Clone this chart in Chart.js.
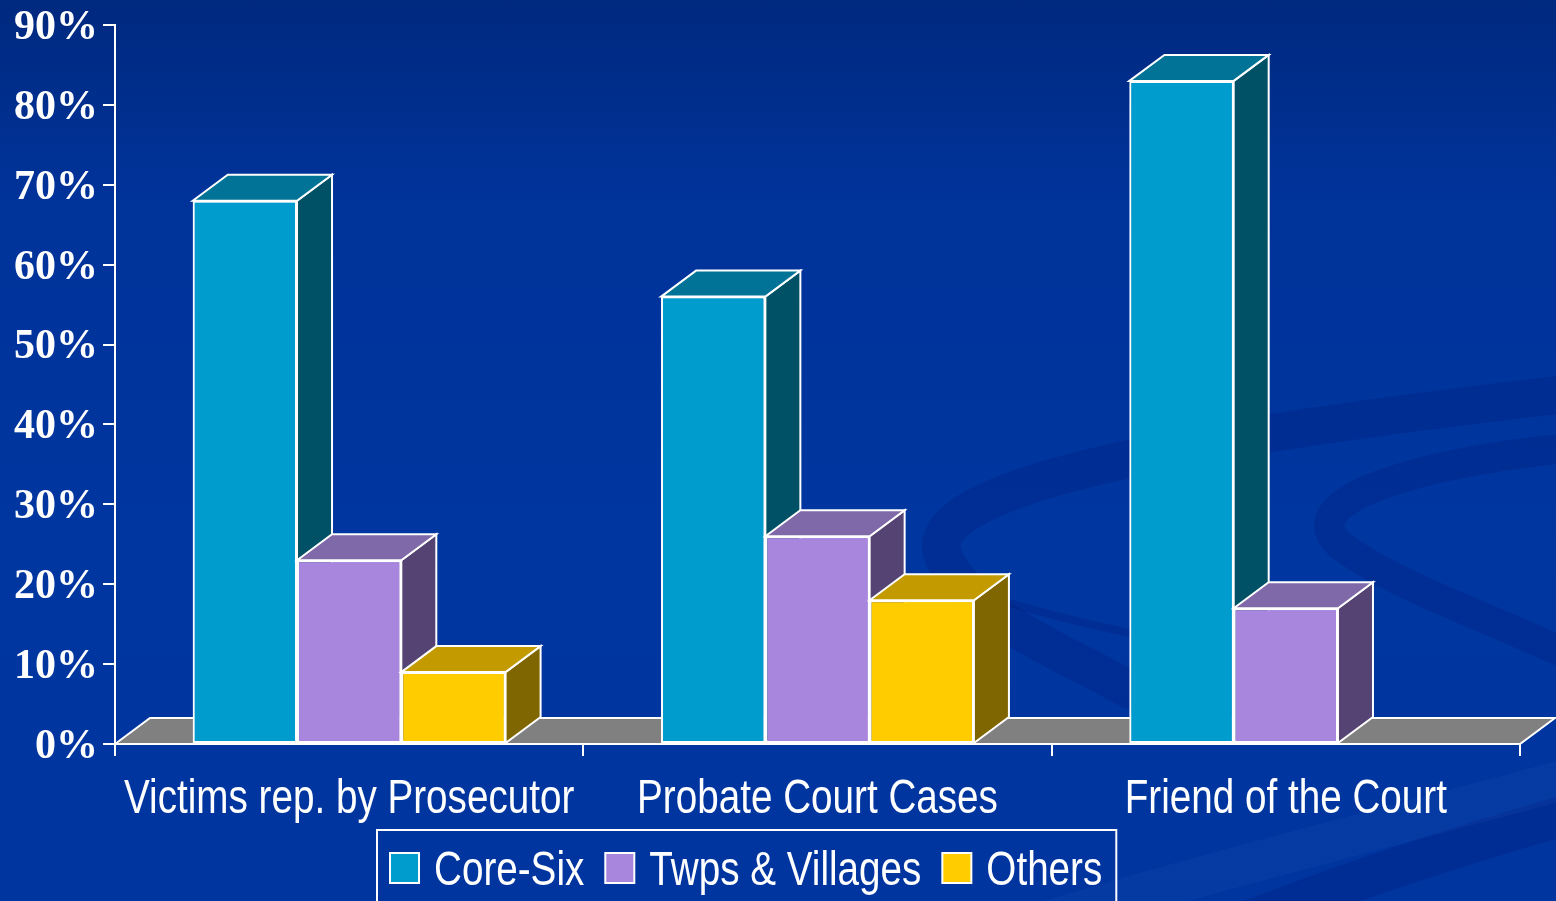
<!DOCTYPE html>
<html><head><meta charset="utf-8">
<script src="https://cdn.jsdelivr.net/npm/chart.js@4"></script>
<style>
html,body{margin:0;padding:0;width:1556px;height:901px;overflow:hidden;}
body{background:linear-gradient(180deg,#00297f 0%,#00339a 22%,#0036a0 60%,#0035a0 100%);}
canvas{display:block;}
</style></head><body>
<canvas id="c" width="1556" height="901"></canvas>
<script>
const categories = ['Victims rep. by Prosecutor', 'Probate Court Cases', 'Friend of the Court'];
const seriesNames = ['Core-Six', 'Twps & Villages', 'Others'];
const coreSix = [68, 56, 83];
const twpsVillages = [23, 26, 17];
const others = [9, 18, null];
const yTickMin = 0, yTickMax = 90, yTickStep = 10;

const frontColors = ['#009CCE', '#A886DE', '#FFCC00'];
const topColors = ['#007396', '#7F69A8', '#C39B00'];
const sideColors = ['#005166', '#554473', '#806600'];
const SANS = "'Liberation Sans',Arial,sans-serif";
const NARROW_SCALE = 0.805;
const DX = 35, DY = -26;

function poly(ctx, pts, fill) {
  ctx.beginPath();
  ctx.moveTo(pts[0][0], pts[0][1]);
  for (let k = 1; k < pts.length; k++) ctx.lineTo(pts[k][0], pts[k][1]);
  ctx.closePath();
  ctx.fillStyle = fill; ctx.fill();
  ctx.strokeStyle = '#fff'; ctx.lineWidth = 2; ctx.lineJoin = 'miter'; ctx.stroke();
}
function narrowText(ctx, text, x, y, align) {
  ctx.save();
  ctx.translate(x, y);
  ctx.scale(NARROW_SCALE, 1);
  ctx.textAlign = align;
  ctx.fillText(text, 0, 0);
  ctx.restore();
}
function narrowWidth(ctx, text) { return ctx.measureText(text).width * NARROW_SCALE; }

const bgSwirl = {
  id: 'bgSwirl',
  beforeDraw(chart) {
    const ctx = chart.ctx;
    ctx.save();
    ctx.lineCap = 'round';
    ctx.strokeStyle = 'rgba(0,25,110,0.25)';
    ctx.lineWidth = 38;
    ctx.beginPath();
    ctx.moveTo(1600, 390);
    ctx.bezierCurveTo(1250, 430, 900, 480, 945, 560);
    ctx.bezierCurveTo(975, 620, 1060, 650, 1130, 690);
    ctx.stroke();
    ctx.lineWidth = 30;
    ctx.beginPath();
    ctx.moveTo(1600, 445);
    ctx.bezierCurveTo(1420, 460, 1290, 500, 1340, 545);
    ctx.bezierCurveTo(1400, 590, 1500, 620, 1600, 670);
    ctx.stroke();
    ctx.lineWidth = 8;
    ctx.beginPath();
    ctx.moveTo(1000, 600);
    ctx.bezierCurveTo(1080, 625, 1200, 650, 1300, 660);
    ctx.stroke();
    ctx.lineWidth = 40;
    ctx.beginPath();
    ctx.moveTo(1250, 920);
    ctx.bezierCurveTo(1380, 870, 1480, 840, 1600, 805);
    ctx.stroke();
    ctx.strokeStyle = 'rgba(60,110,200,0.10)';
    ctx.lineWidth = 40;
    ctx.beginPath();
    ctx.moveTo(1050, 920);
    ctx.bezierCurveTo(1250, 860, 1420, 820, 1600, 770);
    ctx.stroke();
    ctx.restore();
  }
};

const threeD = {
  id: 'threeD',
  beforeDatasetsDraw(chart) {
    const { ctx, chartArea: a } = chart;
    const yb = chart.scales.y.getPixelForValue(0);
    ctx.save();
    poly(ctx, [[a.left, yb], [a.left + DX, yb + DY], [a.right + DX, yb + DY], [a.right, yb]], '#808080');
    ctx.restore();
  },
  afterDatasetsDraw(chart) {
    const ctx = chart.ctx;
    ctx.save();
    chart.data.datasets.forEach((ds, i) => {
      const meta = chart.getDatasetMeta(i);
      meta.data.forEach((bar, j) => {
        if (ds.data[j] == null) return;
        bar.draw(ctx);
        const p = bar.getProps(['x', 'y', 'base', 'width'], true);
        const x1 = p.x - p.width / 2, x2 = p.x + p.width / 2;
        const yt = Math.min(p.y, p.base), yb = Math.max(p.y, p.base);
        poly(ctx, [[x2, yt], [x2 + DX, yt + DY], [x2 + DX, yb + DY], [x2, yb]], sideColors[i]);
        poly(ctx, [[x1, yt], [x1 + DX, yt + DY], [x2 + DX, yt + DY], [x2, yt]], topColors[i]);
      });
    });
    ctx.restore();
  },
  afterDraw(chart) {
    const ctx = chart.ctx;
    ctx.save();
    ctx.font = '48px ' + SANS;
    ctx.fillStyle = '#fff';
    ctx.textBaseline = 'alphabetic';
    const xs = chart.scales.x;
    chart.data.labels.forEach((lab, k) => {
      narrowText(ctx, lab, xs.getPixelForValue(k), 813, 'center');
    });
    const sw = 29, sh = 30, gapT = 15, gapI = 21, padL = 13, padR = 14;
    const left = 377, top = 830;
    let x = left + padL;
    const base = 885;
    seriesNames.forEach((n, k) => {
      ctx.fillStyle = frontColors[k];
      ctx.fillRect(x, 853, sw, sh);
      ctx.strokeStyle = '#fff'; ctx.lineWidth = 2;
      ctx.strokeRect(x, 853, sw, sh);
      ctx.fillStyle = '#fff';
      narrowText(ctx, n, x + sw + gapT, base, 'left');
      x += sw + gapT + narrowWidth(ctx, n) + (k < seriesNames.length - 1 ? gapI : 0);
    });
    ctx.strokeStyle = '#fff'; ctx.lineWidth = 2;
    ctx.strokeRect(left, top, x + padR - left, 120);
    ctx.restore();
  }
};

const datasets = [coreSix, twpsVillages, others].map((d, i) => ({
  label: seriesNames[i],
  data: d,
  backgroundColor: frontColors[i],
  borderColor: '#ffffff',
  borderWidth: 2,
  borderSkipped: false,
  categoryPercentage: 0.668,
  barPercentage: 1.0
}));

new Chart(document.getElementById('c'), {
  type: 'bar',
  data: { labels: categories, datasets },
  plugins: [bgSwirl, threeD],
  options: {
    responsive: false,
    animation: false,
    devicePixelRatio: 1,
    layout: { padding: { top: 25, right: 36, left: 0, bottom: 0 } },
    plugins: { legend: { display: false }, tooltip: { enabled: false } },
    scales: {
      x: {
        grid: { offset: true, drawOnChartArea: false, color: '#ffffff', lineWidth: 2, tickLength: 12 },
        border: { color: '#ffffff', width: 2 },
        ticks: { display: false },
        afterFit(s) { s.height = 157; s.paddingLeft = 0; s.paddingRight = 0; }
      },
      y: {
        min: yTickMin, max: yTickMax,
        grid: { drawOnChartArea: false, color: '#ffffff', lineWidth: 2, tickLength: 12 },
        border: { color: '#ffffff', width: 2 },
        ticks: {
          stepSize: yTickStep, color: '#ffffff', padding: 5, labelOffset: 3,
          font: { family: "'Liberation Serif','Times New Roman',serif", size: 42, weight: 'bold' },
          callback: v => v + '%'
        },
        afterFit(s) { s.width = 115; s.paddingTop = 0; s.paddingBottom = 0; }
      }
    }
  }
});
</script>
</body></html>
